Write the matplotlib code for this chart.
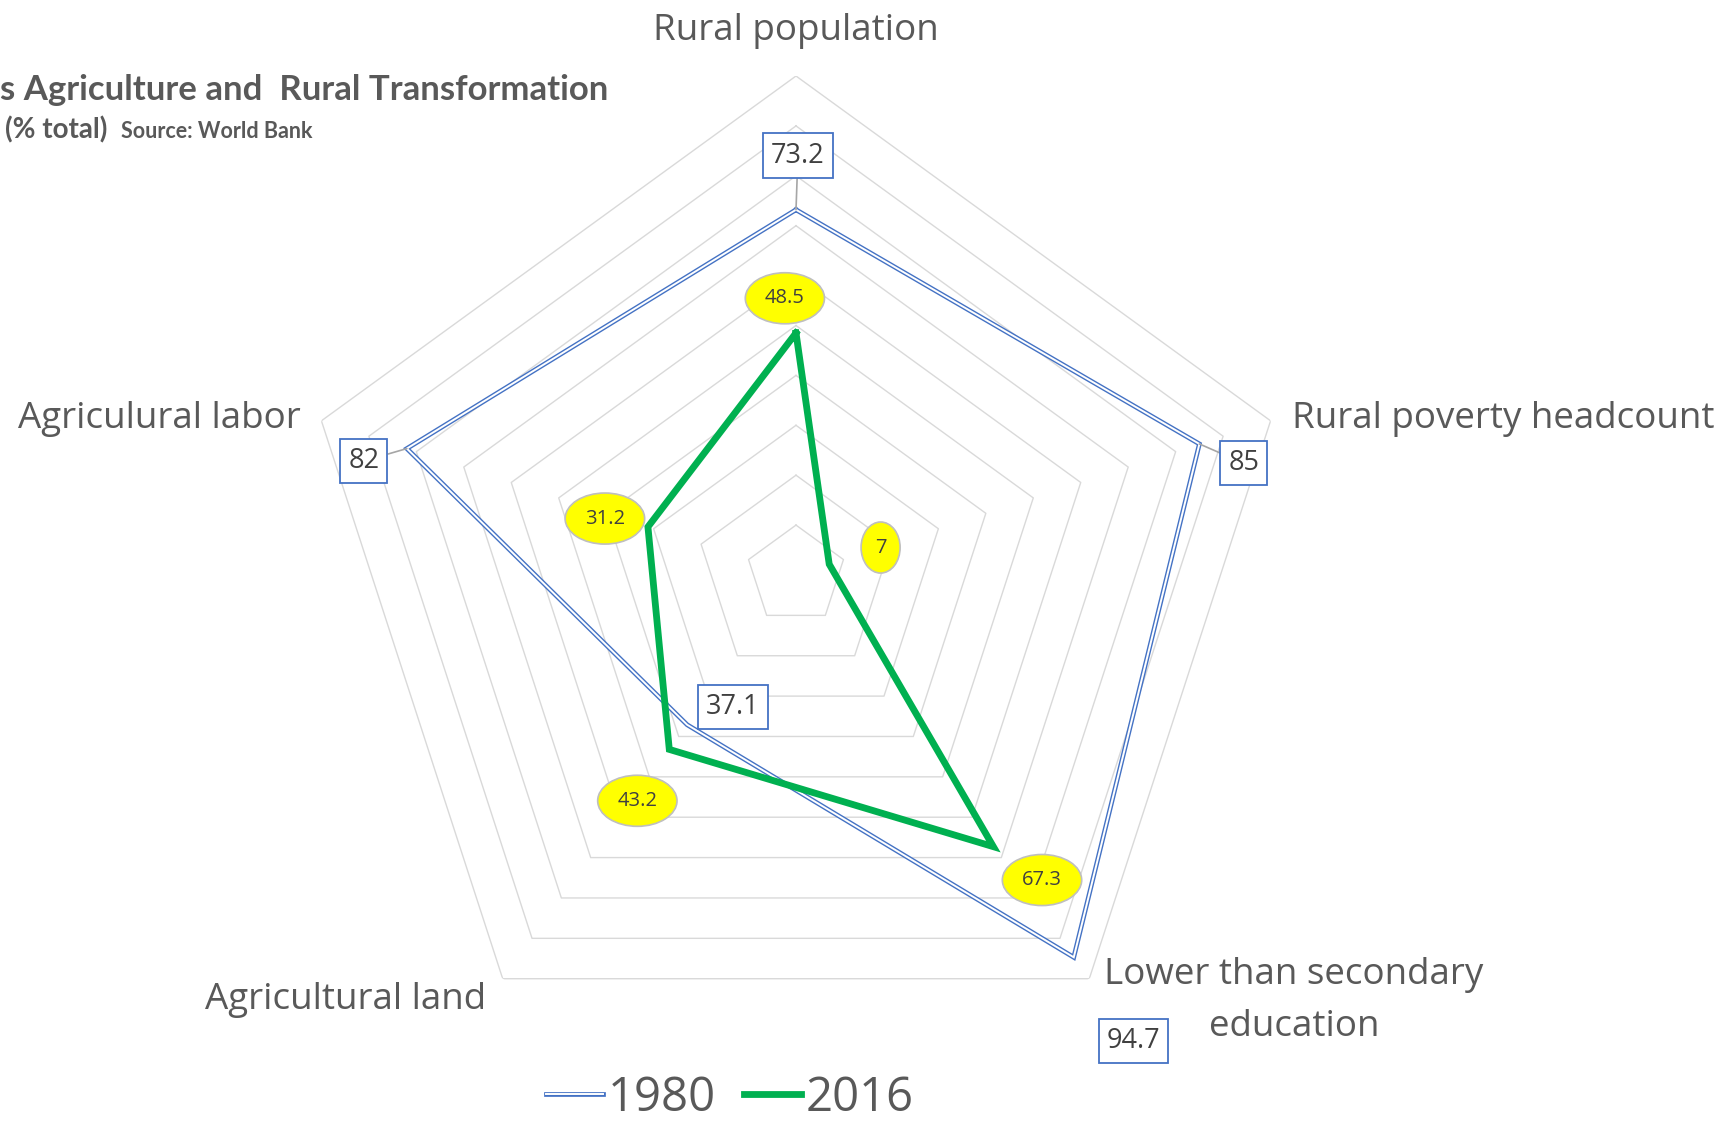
import numpy as np
import matplotlib.pyplot as plt
from matplotlib.lines import Line2D
from matplotlib.legend_handler import HandlerTuple

plt.rcParams["font.family"] = ["Open Sans", "DejaVu Sans"]

# data
categories = ["Rural population", "Rural poverty headcount", "Lower than secondary\neducation",
              "Agricultural land", "Agriculural labor"]
values_1980 = [73.2, 85, 94.7, 37.1, 82]
values_2016 = [48.5, 7, 67.3, 43.2, 31.2]
grid_levels = [10, 20, 30, 40, 50, 60, 70, 80, 90, 100]

# label offsets in points (dx, dy) from each point
off_1980 = [(1.4, 39), (32, -14), (43, -60), (33, 13), (-31, -9)]
off_2016 = [(-8, 25), (37, 12), (35, -24), (-23, -37), (-31, 6)]

W, H = 1734, 1123
fig = plt.figure(figsize=(W / 100, H / 100), dpi=100)

def px(x, y):
    return x / W, 1 - y / H

# polar axes: center (796, 575), radius 499 px
cx, cy, R = 796, 575, 499
ax = fig.add_axes([(cx - R) / W, (H - cy - R) / H, 2 * R / W, 2 * R / H], projection="polar")
ax.set_theta_offset(np.pi / 2)
ax.set_theta_direction(-1)
ax.set_ylim(0, 100)
ax.axis("off")

n = len(categories)
angles = np.linspace(0, 2 * np.pi, n, endpoint=False)
ang_c = np.append(angles, angles[0])

for lv in grid_levels:
    ax.plot(ang_c, [lv] * (n + 1), color="#D9D9D9", lw=1.0, zorder=1)

v80 = np.append(values_1980, values_1980[0])
v16 = np.append(values_2016, values_2016[0])
ax.plot(ang_c, v80, color="#4472C4", lw=3.4, zorder=2, solid_joinstyle="miter")
ax.plot(ang_c, v80, color="white", lw=1.4, zorder=3, solid_joinstyle="miter")
ax.plot(ang_c, v16, color="#00B050", lw=4.9, zorder=4, solid_joinstyle="miter")

# data labels 1980
leader = [True, True, False, False, True]
for a, v, o, ld in zip(angles, values_1980, off_1980, leader):
    ax.annotate(f"{v:g}", xy=(a, v), xytext=o, textcoords="offset points",
                ha="center", va="center", fontsize=19.5, color="#404040", zorder=6,
                bbox=dict(boxstyle="square,pad=0.3", fc="white", ec="#4472C4", lw=1.3),
                arrowprops=dict(arrowstyle="-", color="#A6A6A6", lw=1.2, shrinkA=0, shrinkB=0) if ld else None)

# data labels 2016
for a, v, o in zip(angles, values_2016, off_2016):
    ax.annotate(f"{v:g}", xy=(a, v), xytext=o, textcoords="offset points",
                ha="center", va="center", fontsize=14.5, color="#404040", zorder=6,
                bbox=dict(boxstyle="ellipse,pad=0.4", fc="#FFFF00", ec="#BFBFBF", lw=1.2))

# category labels
lab_col = "#595959"
fs = 26.5
fig.text(*px(796, 31), categories[0], ha="center", va="center", fontsize=fs, color=lab_col)
fig.text(*px(1292, 419), categories[1], ha="left", va="center", fontsize=fs, color=lab_col)
line1, line2 = categories[2].split("\n")
fig.text(*px(1294, 975), line1, ha="center", va="center", fontsize=fs, color=lab_col)
fig.text(*px(1294, 1027), line2, ha="center", va="center", fontsize=fs, color=lab_col)
fig.text(*px(346, 1000), categories[3], ha="center", va="center", fontsize=fs, color=lab_col)
fig.text(*px(301, 419), categories[4], ha="right", va="center", fontsize=fs, color=lab_col)

# title (cut off at left edge as in the original)
fig.text(*px(0, 90), "s Agriculture and  Rural Transformation", ha="left", va="center",
         fontsize=25, fontweight="bold", color=lab_col, family="Lato")
fig.text(*px(5, 130), "(% total)", ha="left", va="center",
         fontsize=20, fontweight="bold", color=lab_col, family="Lato")
fig.text(*px(121, 131), "Source: World Bank", ha="left", va="center",
         fontsize=15.5, fontweight="bold", color=lab_col, family="Lato")

# legend
h80 = (Line2D([], [], color="#4472C4", lw=3.4), Line2D([], [], color="white", lw=1.4))
h16 = Line2D([], [], color="#00B050", lw=4.9)
fig.legend([h80, h16], ["1980", "2016"], handler_map={tuple: HandlerTuple(ndivide=1)},
           loc="lower center", bbox_to_anchor=(0.421, -0.003), ncol=2, frameon=False,
           fontsize=34, handlelength=1.2, handletextpad=0.1, columnspacing=0.6,
           borderaxespad=0, borderpad=0.1, labelcolor=lab_col)

fig.savefig("out.png", dpi=100)
